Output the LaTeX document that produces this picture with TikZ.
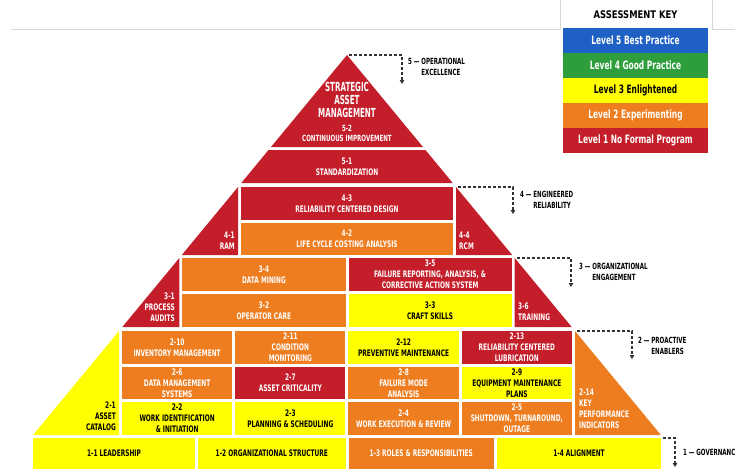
\documentclass[tikz,border=0pt]{standalone}
\usepackage{fontspec}
\newfontfamily\pyrfont{DejaVu Sans}[FakeStretch=0.65]
\newfontfamily\pyrnarrowfont{DejaVu Sans}[FakeStretch=0.57]
\newfontfamily\pyrwidefont{DejaVu Sans}[FakeStretch=0.8]
\usetikzlibrary{arrows.meta, positioning}
\definecolor{pyrred}{RGB}{196,30,42}
\definecolor{pyrorange}{RGB}{238,125,31}
\definecolor{pyryellow}{RGB}{255,255,0}
\definecolor{keyblue}{RGB}{31,96,196}
\definecolor{keygreen}{RGB}{46,158,60}
\definecolor{hdrgray}{RGB}{215,215,215}
\newcommand{\cellfont}{\pyrfont\bfseries\fontsize{9}{11}\selectfont}
\newcommand{\bigcellfont}{\pyrnarrowfont\bfseries\fontsize{12.5}{13}\selectfont}
\newcommand{\smallcellfont}{\pyrfont\bfseries\fontsize{8.5}{10}\selectfont}
\newcommand{\lvlfont}{\pyrfont\bfseries\fontsize{8.5}{11}\selectfont}
\newcommand{\keyfont}{\pyrfont\bfseries\fontsize{11.5}{13}\selectfont}
\newcommand{\keyheadfont}{\pyrwidefont\bfseries\fontsize{10.5}{12}\selectfont}
\tikzset{
  cell/.style={rectangle, inner sep=0pt, outer sep=0pt, align=center, font=\cellfont},
  redcell/.style={cell, fill=pyrred, text=white},
  orgcell/.style={cell, fill=pyrorange, text=white},
  ylwcell/.style={cell, fill=pyryellow, text=black},
  tier4/.style={minimum width=212pt, minimum height=32.5pt},
  tier3/.style={minimum width=163.2pt, minimum height=33pt},
  tier2/.style={minimum width=110.25pt, minimum height=32.67pt},
  tier1/.style={minimum height=31pt},
  tag/.style={inner sep=0pt, font=\cellfont},
  lvl/.style={inner sep=0pt, anchor=north west, font=\lvlfont},
  bracket/.style={dash pattern=on 3pt off 2pt, line width=1.2pt, draw=black!80,
                  -{Triangle[length=4pt, width=4.5pt]}},
  keyrow/.style={rectangle, inner sep=0pt, outer sep=0pt, minimum width=145pt,
                 minimum height=25pt, font=\keyfont, text=white},
  hdrline/.style={draw=hdrgray, line width=0.8pt},
}
\begin{document}
\begin{tikzpicture}[x=1pt, y=-1pt, node distance=3pt]
\useasboundingbox (0,0) rectangle (735,469);
\clip (0,0) rectangle (735,469);

% header rule and assessment key
\draw[hdrline] (11,29) -- (560,29) -- (560,0);
\draw[hdrline] (712,0) -- (712,29) -- (735,29);
\node[font=\keyheadfont] (keyhead) at (635.5,15) {ASSESSMENT KEY};
\node[keyrow, fill=keyblue, anchor=north] (k5) at (635.5,28) {Level 5 Best Practice};
\node[keyrow, fill=keygreen, below=0pt of k5] (k4) {Level 4 Good Practice};
\node[keyrow, fill=pyryellow, text=black, below=0pt of k4] (k3) {Level 3 Enlightened};
\node[keyrow, fill=pyrorange, below=0pt of k3] (k2) {Level 2 Experimenting};
\node[keyrow, fill=pyrred, below=0pt of k2] (k1) {Level 1 No Formal Program};

% level 5
\fill[pyrred] (347,55) -- (423,147) -- (271,147) -- cycle;
\node[cell, text=white, font=\bigcellfont] (sam) at (347,100) {STRATEGIC\\ASSET\\MANAGEMENT};
\node[cell, text=white, font=\smallcellfont] (cimp) at (347,133) {5-2\\CONTINUOUS IMPROVEMENT};
\fill[pyrred] (268.5,150) -- (425.5,150) -- (452.7,183) -- (241.3,183) -- cycle;
\node[cell, text=white] (stdz) at (347,166.5) {5-1\\STANDARDIZATION};

% level 4
\node[redcell, tier4] (rcd) at (347,203.25) {4-3\\RELIABILITY CENTERED DESIGN};
\node[orgcell, tier4, below=3pt of rcd] (lcca) {4-2\\LIFE CYCLE COSTING ANALYSIS};
\fill[pyrred] (238,187) -- (238,255) -- (181.8,255) -- cycle;
\fill[pyrred] (456,187) -- (456,255) -- (512.2,255) -- cycle;
\node[tag, text=white, align=right, anchor=south east] (ram) at (235,250) {4-1\\RAM};
\node[tag, text=white, align=left, anchor=south west] (rcm) at (459,250) {4-4\\RCM};

% level 3
\node[orgcell, tier3] (dmine) at (263.9,274.5) {3-4\\DATA MINING};
\node[redcell, tier3, right=3pt of dmine] (fracas) {3-5\\FAILURE REPORTING, ANALYSIS, \&\\CORRECTIVE ACTION SYSTEM};
\node[orgcell, tier3, below=3pt of dmine] (opcare) {3-2\\OPERATOR CARE};
\node[ylwcell, tier3, below=3pt of fracas] (craft) {3-3\\CRAFT SKILLS};
\fill[pyrred] (179.3,258) -- (179.3,327) -- (122.3,327) -- cycle;
\fill[pyrred] (514.7,258) -- (514.7,327) -- (571.7,327) -- cycle;
\node[tag, text=white, align=right, anchor=south east] (audits) at (175,322) {3-1\\PROCESS\\AUDITS};
\node[tag, text=white, align=left, anchor=south west] (train) at (518,321) {3-6\\TRAINING};

% level 2
\node[orgcell, tier2] (invm) at (177.1,347.3) {2-10\\INVENTORY MANAGEMENT};
\node[orgcell, tier2, right=3pt of invm] (cmon) {2-11\\CONDITION\\MONITORING};
\node[ylwcell, tier2, right=3pt of cmon] (pmnt) {2-12\\PREVENTIVE MAINTENANCE};
\node[redcell, tier2, right=3pt of pmnt] (rclub) {2-13\\RELIABILITY CENTERED\\LUBRICATION};
\node[orgcell, tier2, below=3pt of invm] (dms) {2-6\\DATA MANAGEMENT\\SYSTEMS};
\node[redcell, tier2, below=3pt of cmon] (acrit) {2-7\\ASSET CRITICALITY};
\node[orgcell, tier2, below=3pt of pmnt] (fmode) {2-8\\FAILURE MODE\\ANALYSIS};
\node[ylwcell, tier2, below=3pt of rclub] (emplan) {2-9\\EQUIPMENT MAINTENANCE\\PLANS};
\node[ylwcell, tier2, below=3pt of dms] (workid) {2-2\\WORK IDENTIFICATION\\\& INITIATION};
\node[ylwcell, tier2, below=3pt of acrit] (plsch) {2-3\\PLANNING \& SCHEDULING};
\node[orgcell, tier2, below=3pt of fmode] (wexec) {2-4\\WORK EXECUTION \& REVIEW};
\node[orgcell, tier2, below=3pt of emplan] (outage) {2-5\\SHUTDOWN, TURNAROUND,\\OUTAGE};
\fill[pyryellow] (119,331) -- (119,435) -- (33.1,435) -- cycle;
\fill[pyrorange] (575,331) -- (575,435) -- (660.9,435) -- cycle;
\node[tag, align=right, anchor=south east] (acat) at (116,431) {2-1\\ASSET\\CATALOG};
\node[tag, text=white, align=left, anchor=south west] (kpi) at (579,429) {2-14\\KEY\\PERFORMANCE\\INDICATORS};

% level 1
\node[ylwcell, tier1, minimum width=162pt] (lead) at (114,453.5) {1-1 LEADERSHIP};
\node[ylwcell, tier1, minimum width=147.5pt, right=3pt of lead] (orgst) {1-2 ORGANIZATIONAL STRUCTURE};
\node[orgcell, tier1, minimum width=145.5pt, right=3pt of orgst] (roles) {1-3 ROLES \& RESPONSIBILITIES};
\node[ylwcell, tier1, minimum width=164pt, right=3pt of roles] (align) {1-4 ALIGNMENT};

% level brackets
\coordinate (b5s) at (349,55);  \coordinate (b5e) at (402,84);
\coordinate (b4s) at (458,187); \coordinate (b4e) at (513,214);
\coordinate (b3s) at (517,258); \coordinate (b3e) at (571,287);
\coordinate (b2s) at (577,331); \coordinate (b2e) at (632,359);
\coordinate (b1s) at (663,438); \coordinate (b1e) at (675,467);
\draw[bracket] (b5s) -| (b5e);
\draw[bracket] (b4s) -| (b4e);
\draw[bracket] (b3s) -| (b3e);
\draw[bracket] (b2s) -| (b2e);
\draw[bracket] (b1s) -| (b1e);
\node[lvl] (lv5) at (408,57) {5 — \begin{tabular}[t]{@{}l@{}}OPERATIONAL\\EXCELLENCE\end{tabular}};
\node[lvl] (lv4) at (520,190) {4 — \begin{tabular}[t]{@{}l@{}}ENGINEERED\\RELIABILITY\end{tabular}};
\node[lvl] (lv3) at (579,262) {3 — \begin{tabular}[t]{@{}l@{}}ORGANIZATIONAL\\ENGAGEMENT\end{tabular}};
\node[lvl] (lv2) at (638,336) {2 — \begin{tabular}[t]{@{}l@{}}PROACTIVE\\ENABLERS\end{tabular}};
\node[lvl] (lv1) at (683,449) {1 — GOVERNANCE};
\end{tikzpicture}
\end{document}
